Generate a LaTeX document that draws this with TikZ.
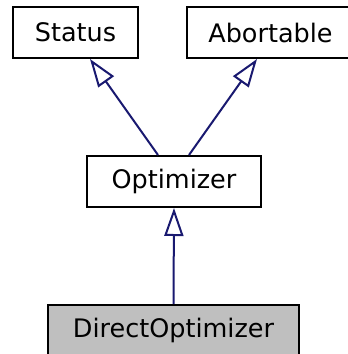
\documentclass[tikz,border=0pt]{standalone}
\usepackage{fontspec}
\setmainfont{DejaVu Sans}
\usetikzlibrary{arrows.meta,calc}
\definecolor{edgeblue}{HTML}{191970}
\definecolor{boxgray}{HTML}{BFBFBF}
\begin{document}
\begin{tikzpicture}[x=1pt,y=-1pt,
  cls/.style={draw=black,line width=2pt,minimum height=51pt,inner sep=0pt,font=\fontsize{25.5}{30}\selectfont,fill=white},
  inh/.style={draw=edgeblue,line width=2pt,-{Triangle[open,length=28pt,width=19pt]}}]
\useasboundingbox (0,0) rectangle (348,354);
\node[cls,minimum width=125pt] (status) at (75.5,32.5) {Status};
\node[cls,minimum width=167pt] (abort) at (270.5,32.5) {Abortable};
\node[cls,minimum width=174pt] (opt) at (174,181.5) {Optimizer};
\node[cls,minimum width=251pt,fill=boxgray] (direct) at (173.5,330.5) {DirectOptimizer};
\draw[inh] ($(opt.north)+(-16,0)$) -- ($(status.south)+(14.5,0)$);
\draw[inh] ($(opt.north)+(15,0)$) -- ($(abort.south)+(-13.5,0)$);
\draw[inh] (direct.north) -- (opt.south);
\end{tikzpicture}
\end{document}
